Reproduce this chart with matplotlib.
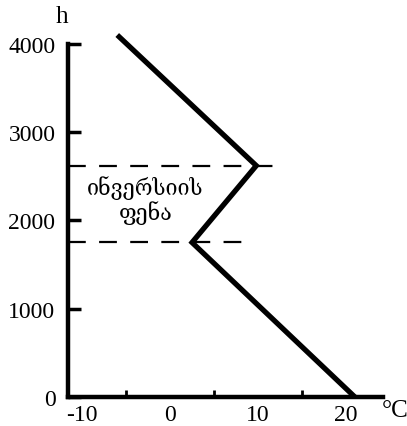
import matplotlib
matplotlib.use('Agg')
import matplotlib.pyplot as plt

# temperature profile (°C) vs height (m)
temp = [-6, 9.8, 2.5, 21]
height = [4100, 2620, 1750, 0]

# inversion layer bounds and how far the dashed lines run
inv_heights = [2620, 1750]
inv_ends = [11.8, 8.2]

xtick_labels = [-10, 0, 10, 20]
xtick_marks = [-5, 0, 5, 10, 15]
ytick_vals = [0, 1000, 2000, 3000, 4000]

layer_label = "ინვერსიის\nფენა"

serif = ['Liberation Serif', 'DejaVu Serif']
plt.rcParams['axes.unicode_minus'] = False

fig = plt.figure(figsize=(4.07, 4.27), dpi=100)
ax = fig.add_axes([0.167, 0.068, 0.774, 0.827])

ax.plot(temp, height, color='black', linewidth=3.8, clip_on=False,
        solid_capstyle='butt', solid_joinstyle='miter')

for h, xe in zip(inv_heights, inv_ends):
    ax.plot([-11.6, xe], [h, h], color='black', linewidth=1.6,
            dashes=(8, 6), clip_on=False)

ax.text(-2.8, 2240, layer_label, ha='center', va='center', fontsize=15.5,
        family=['DejaVu Serif', 'DejaVu Sans'], linespacing=1.05)

ax.set_xlim(-11.6, 24.2)
ax.set_ylim(0, 4000)

for side in ['top', 'right']:
    ax.spines[side].set_visible(False)
for side in ['left', 'bottom']:
    ax.spines[side].set_linewidth(3.2)

ax.set_xticks(xtick_labels)
ax.set_xticks(xtick_marks, minor=True)
ax.set_yticks(ytick_vals)
ax.tick_params(axis='x', which='major', length=0, pad=5, labelsize=17)
ax.tick_params(axis='x', which='minor', direction='in', length=5, width=2)
ax.tick_params(axis='y', which='major', direction='in', length=9, width=2.5,
               pad=9, labelsize=17)
for lbl in ax.get_xticklabels() + ax.get_yticklabels():
    lbl.set_family(serif)

fig.text(62 / 407, 1 - 17 / 427, "h", ha='center', va='center',
         fontsize=18, family=serif)
fig.text(395 / 407, 1 - 411 / 427, "°C", ha='center', va='center',
         fontsize=18, family=serif)

fig.savefig('out.png', dpi=100)
